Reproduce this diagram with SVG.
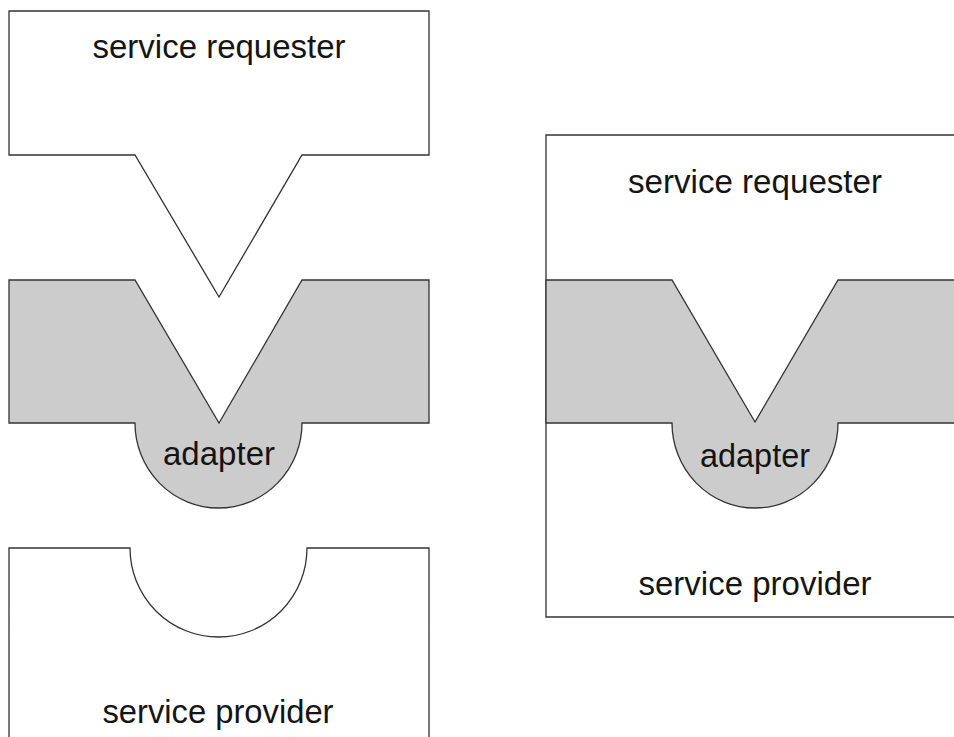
<svg xmlns="http://www.w3.org/2000/svg" width="954" height="737" viewBox="0 0 954 737">
<style>
.w{fill:#ffffff;stroke:#333333;stroke-width:1.3;stroke-linejoin:miter}
.g{fill:#cccccc;stroke:#333333;stroke-width:1.3;stroke-linejoin:miter}
text{font-family:"Liberation Sans",Arial,sans-serif;font-size:33px;fill:#141414;text-anchor:middle}
</style>
<rect width="954" height="737" fill="#ffffff"/>
<g id="left-requester">
<path class="w" d="M9,11 H429 V155 H302 L219,297 L135,155 H9 Z"/>
<text x="219" y="58" textLength="253" lengthAdjust="spacingAndGlyphs">service requester</text>
</g>
<g id="left-adapter">
<path class="g" d="M9,280 H135 L219,423 L302,280 H429 V423 H302 A83.5,85 0 0 1 135,423 H9 Z"/>
<text x="219" y="465" textLength="112" lengthAdjust="spacingAndGlyphs">adapter</text>
</g>
<g id="left-provider">
<path class="w" d="M9,745 V548 H130 A88.5,89 0 0 0 307,548 H429 V745"/>
<text x="218" y="723" textLength="231" lengthAdjust="spacingAndGlyphs">service provider</text>
</g>
<g id="right-combined">
<path class="w" d="M546,135 H958 V617 H546 Z"/>
<text x="755" y="193" textLength="254" lengthAdjust="spacingAndGlyphs">service requester</text>
<path class="g" d="M546,280 H672 L755,422 L838,280 H958 V423 H838 A83,85 0 0 1 672,423 H546 Z"/>
<text x="755" y="467" textLength="110" lengthAdjust="spacingAndGlyphs">adapter</text>
<text x="755" y="595" textLength="233" lengthAdjust="spacingAndGlyphs">service provider</text>
</g>
</svg>
